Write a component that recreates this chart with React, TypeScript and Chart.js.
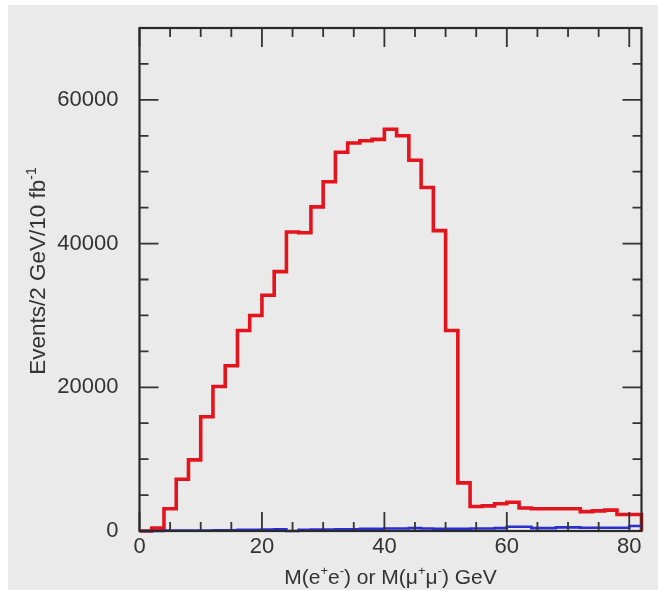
import React, { useEffect, useRef } from 'react';
import { Chart, registerables } from 'chart.js';

Chart.register(...registerables);

// Histogram bin left edges (2 GeV bins), plus the closing edge
const binLefts = [0, 2, 4, 6, 8, 10, 12, 14, 16, 18, 20, 22, 24, 26, 28, 30, 32, 34, 36, 38, 40, 42, 44, 46, 48, 50, 52, 54, 56, 58, 60, 62, 64, 66, 68, 70, 72, 74, 76, 78, 80];
const lastEdge = 82;

// Signal (red) events per bin
const redValues = [0, 400, 3100, 7200, 9900, 15900, 20100, 23000, 27900, 30000, 32800, 36100, 41600, 41500, 45100, 48600, 52700, 54000, 54300, 54500, 55900, 55000, 51600, 47800, 41800, 27900, 6700, 3400, 3500, 3800, 4000, 3200, 3100, 3100, 3100, 3100, 2700, 2800, 2900, 2300, 2300];

// Background (blue) events per bin
const blueValues = [0, 0, 50, 50, 50, 80, 100, 100, 150, 150, 200, 250, 0, 150, 200, 200, 250, 250, 300, 300, 350, 350, 400, 350, 300, 300, 300, 350, 350, 400, 600, 600, 400, 400, 500, 500, 450, 450, 450, 450, 700];

// Axes
const xMin = 0;
const xMax = 82;
const yMin = 0;
const yMax = 70000;
const xLabelTicks = [0, 20, 40, 60, 80];
const xTickLabels = ['0', '20', '40', '60', '80'];
const yLabelTicks = [0, 20000, 40000, 60000];
const yTickLabels = ['0', '20000', '40000', '60000'];
const xTickMarks = [0, 5, 10, 15, 20, 25, 30, 35, 40, 45, 50, 55, 60, 65, 70, 75, 80];
const yTickMarks = [0, 5000, 10000, 15000, 20000, 25000, 30000, 35000, 40000, 45000, 50000, 55000, 60000, 65000, 70000];

const FONT = '"Liberation Sans", Arial, Helvetica, sans-serif';
const TEXT = '#333333';

type Part = { t: string; sup?: boolean };

const xTitle: Part[] = [
  { t: 'M(e' }, { t: '+', sup: true }, { t: 'e' }, { t: '-', sup: true },
  { t: ') or M(\u03bc' }, { t: '+', sup: true }, { t: '\u03bc' }, { t: '-', sup: true }, { t: ') GeV' },
];
const yTitle: Part[] = [{ t: 'Events/2 GeV/10 fb' }, { t: '-1', sup: true }];

function drawRich(ctx: CanvasRenderingContext2D, parts: Part[], cx: number, baseY: number, size: number, supSize: number) {
  const widths = parts.map((p) => {
    ctx.font = `${p.sup ? supSize : size}px ${FONT}`;
    return ctx.measureText(p.t).width;
  });
  const total = widths.reduce((a, b) => a + b, 0);
  let x = cx - total / 2;
  ctx.textAlign = 'left';
  ctx.textBaseline = 'alphabetic';
  parts.forEach((p, i) => {
    ctx.font = `${p.sup ? supSize : size}px ${FONT}`;
    ctx.fillText(p.t, x, p.sup ? baseY - size * 0.42 : baseY);
    x += widths[i];
  });
}

const framePlugin = {
  id: 'frameTicks',
  beforeDraw(chart: any) {
    const ctx = chart.ctx;
    ctx.save();
    ctx.fillStyle = '#ffffff';
    ctx.fillRect(0, 0, chart.width, chart.height);
    ctx.fillStyle = '#eaeaea';
    ctx.fillRect(8, 5, chart.width - 8, chart.height - 5);
    ctx.restore();
  },
  afterDatasetsDraw(chart: any) {
    const ctx = chart.ctx;
    const { left, right, top, bottom } = chart.chartArea;
    const xs = chart.scales.x;
    const ys = chart.scales.y;
    ctx.save();
    ctx.strokeStyle = '#333333';
    ctx.lineWidth = 1.8;
    ctx.beginPath();
    xTickMarks.forEach((v) => {
      const px = xs.getPixelForValue(v);
      const len = v % 20 === 0 ? 19 : 9;
      ctx.moveTo(px, bottom);
      ctx.lineTo(px, bottom - len);
      ctx.moveTo(px, top);
      ctx.lineTo(px, top + len);
    });
    yTickMarks.forEach((v) => {
      const py = ys.getPixelForValue(v);
      const len = v % 20000 === 0 ? 19 : 9;
      ctx.moveTo(left, py);
      ctx.lineTo(left + len, py);
      ctx.moveTo(right, py);
      ctx.lineTo(right - len, py);
    });
    ctx.stroke();
    ctx.lineWidth = 2.2;
    ctx.strokeStyle = '#2a2a2a';
    ctx.strokeRect(left, top, right - left, bottom - top);
    ctx.restore();
  },
  afterDraw(chart: any) {
    const ctx = chart.ctx;
    const { left, right } = chart.chartArea;
    ctx.save();
    ctx.fillStyle = TEXT;
    drawRich(ctx, xTitle, (left + right) / 2, 584, 21, 13);
    ctx.translate(45, 271);
    ctx.rotate(-Math.PI / 2);
    drawRich(ctx, yTitle, 0, 0, 22.5, 14);
    ctx.restore();
  },
};

export default function App() {
  const ref = useRef<HTMLCanvasElement | null>(null);

  useEffect(() => {
    if (!ref.current) return;
    const redPoints = binLefts.map((x, i) => ({ x, y: redValues[i] }));
    redPoints.push({ x: lastEdge, y: 0 });
    const bluePoints = binLefts.map((x, i) => ({ x, y: blueValues[i] }));
    bluePoints.push({ x: lastEdge, y: blueValues[blueValues.length - 1] });

    const chart = new Chart(ref.current, {
      type: 'line',
      data: {
        datasets: [
          {
            label: 'background',
            data: bluePoints,
            borderColor: '#2a2fd0',
            borderWidth: 2.6,
            stepped: true,
            pointRadius: 0,
            fill: false,
            clip: 4,
          },
          {
            label: 'signal',
            data: redPoints,
            borderColor: '#e3141d',
            borderWidth: 3.6,
            stepped: true,
            pointRadius: 0,
            fill: false,
            clip: 4,
          },
        ],
      },
      options: {
        animation: false,
        responsive: false,
        maintainAspectRatio: false,
        layout: { padding: { top: 28, right: 16.5, left: 0, bottom: 0 } },
        plugins: { legend: { display: false }, tooltip: { enabled: false } },
        scales: {
          x: {
            type: 'linear',
            min: xMin,
            max: xMax,
            grid: { display: false, drawTicks: false },
            border: { display: false },
            ticks: {
              padding: 3,
              color: TEXT,
              font: { size: 22, family: FONT },
              maxRotation: 0,
              autoSkip: false,
              callback: (_v: any, i: number) => xTickLabels[i],
            },
            afterBuildTicks: (s: any) => {
              s.ticks = xLabelTicks.map((v) => ({ value: v }));
            },
            afterFit: (s: any) => {
              s.height = 59;
              s.paddingLeft = 0;
              s.paddingRight = 0;
              s.paddingTop = 0;
              s.paddingBottom = 0;
            },
          },
          y: {
            type: 'linear',
            min: yMin,
            max: yMax,
            grid: { display: false, drawTicks: false },
            border: { display: false },
            ticks: {
              padding: 21,
              color: TEXT,
              font: { size: 22, family: FONT },
              autoSkip: false,
              callback: (_v: any, i: number) => yTickLabels[i],
            },
            afterBuildTicks: (s: any) => {
              s.ticks = yLabelTicks.map((v) => ({ value: v }));
            },
            afterFit: (s: any) => {
              s.width = 139.5;
              s.paddingLeft = 0;
              s.paddingRight = 0;
              s.paddingTop = 0;
              s.paddingBottom = 0;
            },
          },
        },
      },
      plugins: [framePlugin],
    } as any);
    return () => chart.destroy();
  }, []);

  return (
    <div style={{ position: 'absolute', left: 0, top: 0, width: 658, height: 590 }}>
      <canvas ref={ref} width={658} height={590} style={{ display: 'block', width: 658, height: 590 }} />
    </div>
  );
}
